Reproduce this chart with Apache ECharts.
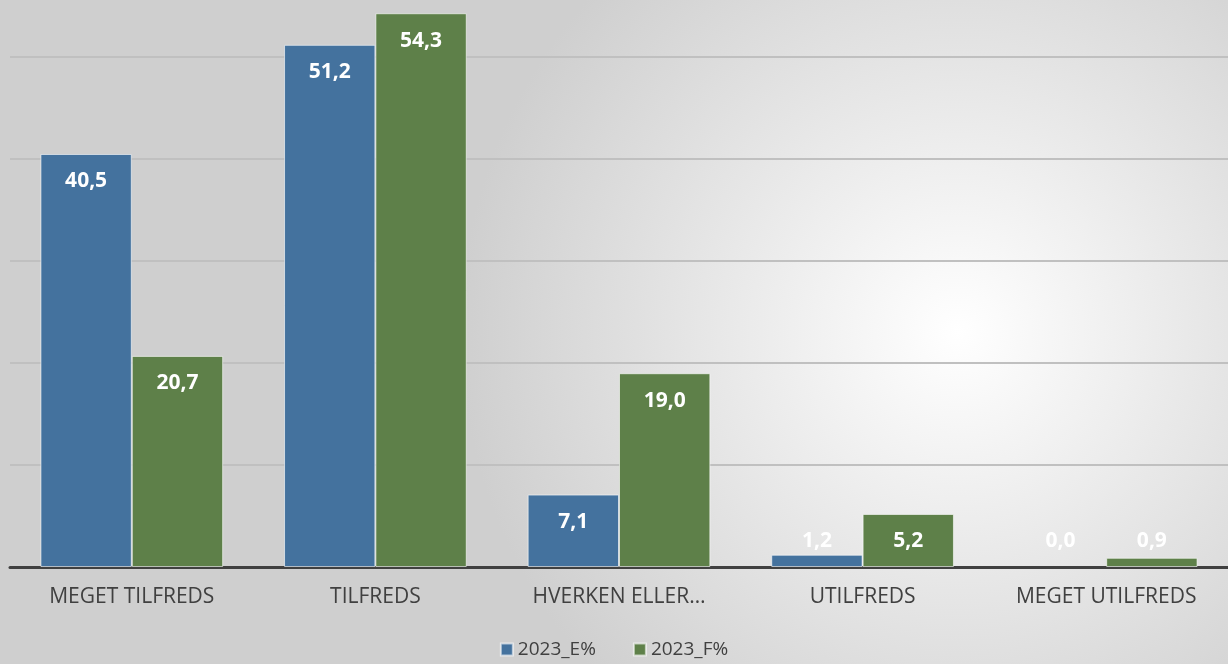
<!DOCTYPE html>
<html><head><meta charset="utf-8">
<script src="https://cdn.jsdelivr.net/npm/echarts@6/dist/echarts.min.js"></script>
<style>html,body{margin:0;padding:0;}#c{width:1228px;height:664px;}</style>
</head><body><div id="c"></div>
<script>
const categories = ['MEGET TILFREDS', 'TILFREDS', 'HVERKEN ELLER…', 'UTILFREDS', 'MEGET UTILFREDS'];
const seriesNames = ['2023_E%', '2023_F%'];
const valuesE = [40.5, 51.2, 7.1, 1.2, 0.0];
const valuesF = [20.7, 54.3, 19.0, 5.2, 0.9];
const colors = ['#44729e', '#5e8049'];

const fmt = v => v.toFixed(1).replace('.', ',');
function makeData(vals) {
  return vals.map(v => v < 3
    ? { value: v, label: { position: 'insideBottom', distance: 15 },
        itemStyle: v === 0 ? { borderWidth: 0 } : undefined }
    : { value: v });
}
const chart = echarts.init(document.getElementById('c'));
const mkSeries = (name, vals, color) => ({
  name, type: 'bar', data: makeData(vals),
  barGap: '0%', barCategoryGap: '25%',
  itemStyle: { color, borderColor: 'rgba(255,255,255,0.6)', borderWidth: 1 },
  label: { show: true, position: 'insideTop', distance: 17, color: '#ffffff',
    fontSize: 21, fontWeight: 'bold', fontFamily: 'Open Sans',
    formatter: p => fmt(p.value) }
});
chart.setOption({
  backgroundColor: {
    type: 'radial', x: 0.78, y: 0.5, r: 0.75,
    colorStops: [{ offset: 0, color: '#ffffff' }, { offset: 1, color: '#cfcfcf' }]
  },
  animation: false,
  grid: { left: 10, right: 0, top: 0, bottom: 97 },
  legend: {
    bottom: 0, left: 'center', itemWidth: 12, itemHeight: 12, itemGap: 37,
    icon: 'rect', data: seriesNames,
    textStyle: { color: '#404040', fontSize: 19, fontFamily: 'Open Sans' }
  },
  xAxis: {
    type: 'category', data: categories,
    axisLine: { lineStyle: { color: '#404040', width: 3 } },
    axisTick: { show: false },
    axisLabel: { color: '#404040', fontSize: 21, fontFamily: 'Open Sans', margin: 20 }
  },
  yAxis: {
    type: 'value', min: 0, max: 55.6, interval: 10,
    axisLabel: { show: false }, axisLine: { show: false }, axisTick: { show: false },
    splitLine: { showMaxLine: false, lineStyle: { color: '#c0c0c0', width: 2 } }
  },
  series: [mkSeries(seriesNames[0], valuesE, colors[0]), mkSeries(seriesNames[1], valuesF, colors[1])]
});
</script></body></html>
